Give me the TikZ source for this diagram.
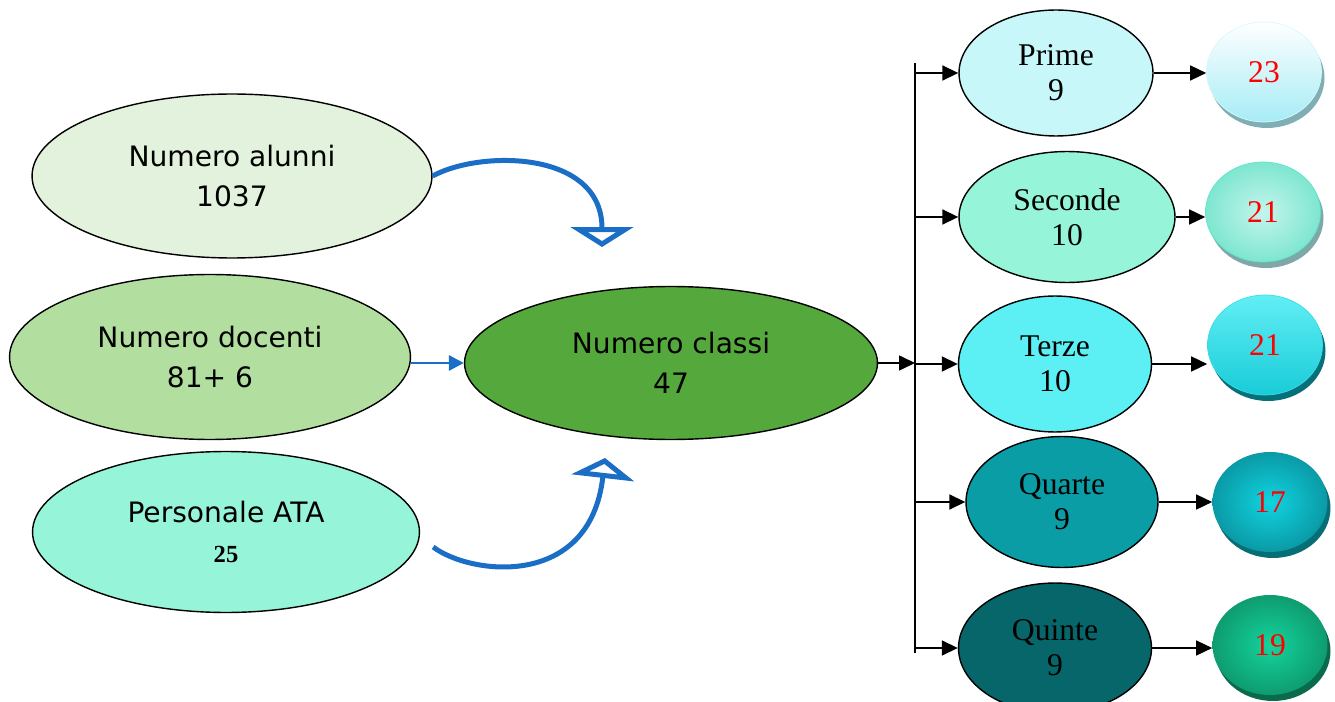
\documentclass[tikz,border=0pt]{standalone}
\usepackage{fontspec}
\setmainfont{Liberation Serif}
\newfontfamily\fumetto{DejaVu Sans}
\usetikzlibrary{arrows.meta,shapes.geometric,shadows}
\definecolor{azzurro}{HTML}{1B6EC6}
\definecolor{alunnicol}{HTML}{E2F2DC}
\definecolor{docenticol}{HTML}{B2DFA0}
\definecolor{atacol}{HTML}{96F5D8}
\definecolor{classicol}{HTML}{55A83C}
\definecolor{primecol}{HTML}{C8F7FA}
\definecolor{secondecol}{HTML}{96F5D8}
\definecolor{terzecol}{HTML}{5CF0F5}
\definecolor{quartecol}{HTML}{0A9DA5}
\definecolor{quintecol}{HTML}{06666A}
\definecolor{ombra23}{HTML}{7FAFB5}
\definecolor{alto23}{HTML}{FFFFFF}
\definecolor{basso23}{HTML}{A6ECF6}
\definecolor{bordo23}{HTML}{D8F8FC}
\definecolor{ombra21a}{HTML}{7EA8A8}
\definecolor{dentro21a}{HTML}{C4F5EC}
\definecolor{fuori21a}{HTML}{7EE6D0}
\definecolor{bordo21a}{HTML}{5CE6C8}
\definecolor{ombra21b}{HTML}{06707A}
\definecolor{alto21b}{HTML}{62EEF5}
\definecolor{basso21b}{HTML}{18CCD8}
\definecolor{bordo21b}{HTML}{3ADCE4}
\definecolor{ombra17}{HTML}{076E76}
\definecolor{dentro17}{HTML}{10D4E0}
\definecolor{fuori17}{HTML}{0A9AA6}
\definecolor{ombra19}{HTML}{0A6A4C}
\definecolor{dentro19}{HTML}{14D49C}
\definecolor{fuori19}{HTML}{0E9C70}
\tikzset{
  info/.style={ellipse, draw, line width=0.8pt, inner sep=0pt, align=center,
    font=\fumetto\fontsize{16}{23}\selectfont},
  classe/.style={ellipse, draw, line width=0.8pt, inner sep=0pt, align=center,
    font=\fontsize{18}{20}\selectfont},
  bottone/.style={ellipse, minimum width=2.3cm, minimum height=2cm, inner sep=0pt,
    text=red, font=\fontsize{18}{20}\selectfont,
    drop shadow={shadow xshift=0.06cm, shadow yshift=-0.12cm, opacity=1, fill=#1}},
  freccia/.style={-{Triangle[length=0.32cm,width=0.3cm]}, line width=0.9pt},
  blu/.style={draw=azzurro, line width=0.06cm, -{Triangle[length=0.3cm,width=0.3cm]}},
  curva/.style={draw=azzurro, line width=0.1cm, -{Triangle[open,length=0.4cm,width=1.25cm]}},
}
\begin{document}
\begin{tikzpicture}[x=0.02cm,y=-0.02cm]
\useasboundingbox (0,0) rectangle (1335,702);
\node[info, fill=alunnicol, minimum width=8cm, minimum height=3.28cm] (alunni) at (232,176) {Numero alunni\\1037};
\node[info, fill=docenticol, minimum width=8.02cm, minimum height=3.3cm] (docenti) at (210,357) {Numero docenti\\81+ 6};
\node[info, fill=atacol, minimum width=7.74cm, minimum height=3.22cm] (ata) at (226,532) {Personale ATA\\{\rmfamily\bfseries\fontsize{14}{15}\selectfont 25}};
\node[info, fill=classicol, minimum width=8.26cm, minimum height=3.06cm] (classi) at (671,363) {Numero classi\\47};

\coordinate (punta1) at (602,247);
\coordinate (punta2) at (605,458);
\draw[curva] (alunni.east) .. controls (480,150) and (602,150) .. (punta1);
\draw[curva] ([xshift=0.26cm,yshift=-0.3cm]ata.east) .. controls (470,575) and (590,590) .. (punta2);
\draw[blu] (docenti.east |- classi.west) -- (classi.west);

\node[classe, fill=primecol, minimum width=3.88cm, minimum height=2.52cm] (prime) at (1056,73) {Prime\\9};
\node[classe, fill=secondecol, minimum width=4.32cm, minimum height=2.62cm] (seconde) at (1067,217) {Seconde\\10};
\node[classe, fill=terzecol, minimum width=3.86cm, minimum height=2.72cm] (terze) at (1055,364) {Terze\\10};
\node[classe, fill=quartecol, minimum width=3.84cm, minimum height=2.62cm] (quarte) at (1062,502) {Quarte\\9};
\node[classe, fill=quintecol, minimum width=3.86cm, minimum height=2.6cm] (quinte) at (1055,648) {Quinte\\9};

\node[bottone=ombra23, top color=alto23, bottom color=basso23, draw=bordo23] (n23) at (1264,72) {23};
\node[bottone=ombra21a, inner color=dentro21a, outer color=fuori21a, draw=bordo21a] (n21a) at (1263,212) {21};
\node[bottone=ombra21b, top color=alto21b, bottom color=basso21b, draw=bordo21b] (n21b) at (1265,345) {21};
\node[bottone=ombra17, inner color=dentro17, outer color=fuori17] (n17) at (1270,502) {17};
\node[bottone=ombra19, inner color=dentro19, outer color=fuori19] (n19) at (1270,645) {19};

\coordinate (bussu) at (915,63);
\coordinate (busgiu) at (915,653);
\draw[line width=0.9pt] (bussu) -- (busgiu);
\draw[freccia] (classi.east) -- (classi.east -| bussu);
\draw[freccia] (bussu |- prime.west) -- (prime.west);
\draw[freccia] (bussu |- seconde.west) -- (seconde.west);
\draw[freccia] (bussu |- terze.west) -- (terze.west);
\draw[freccia] (bussu |- quarte.west) -- (quarte.west);
\draw[freccia] (bussu |- quinte.west) -- (quinte.west);

\draw[freccia] (prime.east) -- (prime.east -| n23.west);
\draw[freccia] (seconde.east) -- (seconde.east -| n21a.west);
\draw[freccia] (terze.east) -- (terze.east -| n21b.west);
\draw[freccia] (quarte.east) -- (quarte.east -| n17.west);
\draw[freccia] (quinte.east) -- (quinte.east -| n19.west);
\end{tikzpicture}
\end{document}
